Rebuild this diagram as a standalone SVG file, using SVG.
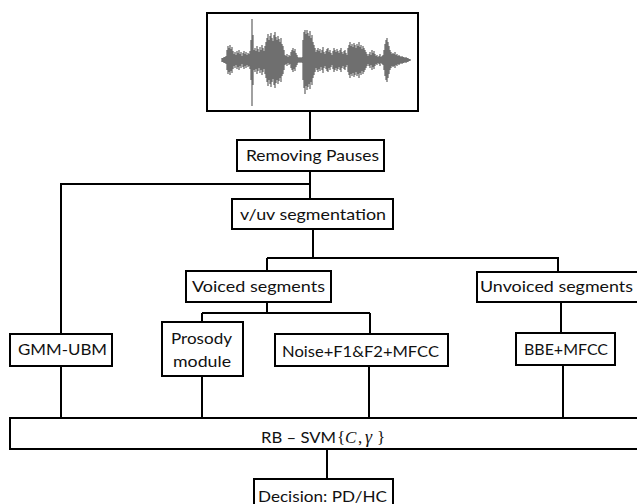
<svg xmlns="http://www.w3.org/2000/svg" width="637" height="504" viewBox="0 0 637 504">
<style>
.box{fill:#fff;stroke:#000;stroke-width:2}
.c{fill:none;stroke:#000;stroke-width:2}
.t{font-family:Lato,"Liberation Sans",sans-serif;font-size:16px;fill:#111;text-anchor:middle}
.m{font-family:"Liberation Serif","DejaVu Serif",serif;font-size:17px;fill:#111}
.wave{fill:none;stroke:#6f6f6f;stroke-width:1.3}
</style>
<rect width="637" height="504" fill="#fff"/>
<g id="connectors">
<path class="c" d="M310 111V140M310 171V199M310 184H61V334M61 366V418"/>
<path class="c" d="M313 229V258M267 258H558V272M267 271V258"/>
<path class="c" d="M267 302V313M202 313H370M202 313V322M370 313V334"/>
<path class="c" d="M561 302V333"/>
<path class="c" d="M202 376V418M369 366V418M563 365V418M327 449V479"/>
</g>
<g id="waveform">
<rect class="box" x="207" y="13" width="211" height="98"/>
<path class="wave" d="M222 60H410
M222 58v4M223 58v4M224 57v6M225 57v6M226 56v8M227 50v20M228 46v28M229 48v24M230 45v30M231 49v22M232 47v26M233 51v18
M234 54v12M235 52v16M236 55v10M237 51v18M238 53v14M239 50v20M240 54v12M241 52v16M242 56v8M243 53v14M244 51v18M245 54v12M246 52v16M247 55v10M248 53v14M249 54v12M250 51v18
M251 40v40M252 19v87M253 35v50M254 50v20M255 48v24M256 51v18M257 46v28M258 49v22M259 52v16M260 47v26M261 50v20M262 45v30M263 48v24M264 51v18M265 46v28
M266 42v36M267 38v44M268 34v52M269 40v40M270 36v48M271 33v54M272 38v44M273 41v38M274 35v50M275 32v56M276 37v46M277 40v40M278 36v48M279 39v42M280 42v36M281 38v44M282 44v32M283 46v28M284 50v20
M285 55v10M286 56v8M287 54v12M288 57v6M289 55v10M290 56v8M291 52v16M292 50v20M293 48v24M294 51v18M295 49v22M296 53v14M297 55v10M298 57v6M299 58v4M300 57v6M301 58v4M302 57v6
M303 40v40M304 32v56M305 30v64M306 34v52M307 30v60M308 33v54M309 36v48M310 31v58M311 38v44M312 35v50M313 42v36M314 45v30M315 48v24
M316 52v16M317 50v20M318 48v24M319 51v18M320 49v22M321 53v14M322 50v20M323 47v26M324 52v16M325 54v12M326 51v18M327 49v22M328 48v24M329 52v16M330 50v20M331 53v14M332 55v10M333 51v18M334 48v24M335 50v20M336 52v16M337 49v22M338 51v18M339 53v14M340 50v20M341 48v24M342 52v16M343 54v12M344 51v18M345 50v20M346 53v14M347 55v10
M348 48v24M349 45v30M350 42v36M351 46v28M352 44v32M353 47v26M354 43v34M355 45v30M356 48v24M357 44v32M358 46v28M359 42v36M360 47v26M361 45v30M362 49v22M363 46v28M364 48v24M365 50v20M366 52v16M367 54v12
M368 56v8M369 54v12M370 52v16M371 55v10M372 50v20M373 53v14M374 51v18M375 54v12M376 56v8M377 55v10M378 57v6M379 56v8M380 54v12M381 57v6M382 56v8M383 55v10
M384 50v20M385 44v32M386 40v40M387 38v44M388 42v36M389 46v28M390 50v20M391 52v16M392 54v12
M393 53v14M394 54v12M395 52v16M396 55v10M397 54v12M398 56v8M399 55v10M400 56v8M401 57v6M402 56v8M403 57v6M404 57v6M405 58v4M406 57v6M407 58v4M408 58v4M409 59v2M410 59v2"/>
</g>
<g id="removing-pauses">
<rect class="box" x="237" y="140" width="147" height="31"/>
<text class="t" x="312.5" y="161" textLength="133" lengthAdjust="spacingAndGlyphs">Removing Pauses</text>
</g>
<g id="vuv-segmentation">
<rect class="box" x="232" y="199" width="161" height="30"/>
<text class="t" x="313" y="220" textLength="146" lengthAdjust="spacingAndGlyphs">v/uv segmentation</text>
</g>
<g id="voiced-segments">
<rect class="box" x="186" y="271" width="145" height="31"/>
<text class="t" x="258.5" y="292" textLength="133" lengthAdjust="spacingAndGlyphs">Voiced segments</text>
</g>
<g id="unvoiced-segments">
<rect class="box" x="477" y="272" width="165" height="30"/>
<text class="t" x="556.5" y="292" textLength="153" lengthAdjust="spacingAndGlyphs">Unvoiced segments</text>
</g>
<g id="gmm-ubm">
<rect class="box" x="10" y="334" width="102" height="32"/>
<text class="t" x="62.5" y="355" textLength="89" lengthAdjust="spacingAndGlyphs">GMM-UBM</text>
</g>
<g id="prosody-module">
<rect class="box" x="162" y="322" width="81" height="54"/>
<text class="t" x="201.5" y="344" textLength="61" lengthAdjust="spacingAndGlyphs">Prosody</text>
<text class="t" x="202" y="367" textLength="58" lengthAdjust="spacingAndGlyphs">module</text>
</g>
<g id="noise-f1f2-mfcc">
<rect class="box" x="275" y="334" width="173" height="32"/>
<text class="t" x="360.5" y="357" textLength="157" lengthAdjust="spacingAndGlyphs">Noise+F1&amp;F2+MFCC</text>
</g>
<g id="bbe-mfcc">
<rect class="box" x="516" y="333" width="99" height="32"/>
<text class="t" x="566" y="355" textLength="84" lengthAdjust="spacingAndGlyphs">BBE+MFCC</text>
</g>
<g id="rb-svm">
<rect class="box" x="10" y="418" width="632" height="31"/>
<text class="t" x="298.5" y="443" textLength="75" lengthAdjust="spacingAndGlyphs">RB – SVM</text>
<text class="m" y="443"><tspan x="337">{</tspan><tspan x="345" font-style="italic">C</tspan><tspan x="358">,</tspan><tspan x="365" font-style="italic" font-size="18">γ</tspan><tspan x="377">}</tspan></text>
</g>
<g id="decision">
<rect class="box" x="254" y="479" width="139" height="32"/>
<text class="t" x="322.5" y="502" textLength="129" lengthAdjust="spacingAndGlyphs">Decision: PD/HC</text>
</g>
</svg>
